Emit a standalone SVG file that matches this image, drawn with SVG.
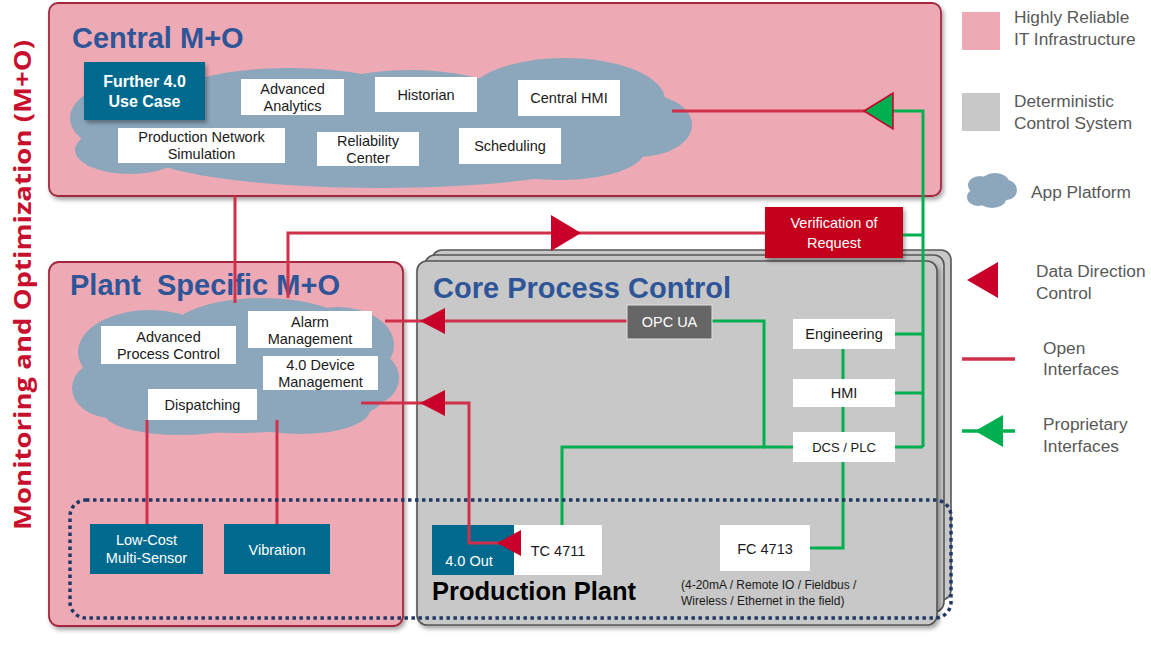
<svg xmlns="http://www.w3.org/2000/svg" width="1151" height="647" viewBox="0 0 1151 647">
<defs>
<filter id="sh" x="-10%" y="-10%" width="130%" height="140%"><feDropShadow dx="2" dy="3" stdDeviation="2" flood-color="#000" flood-opacity="0.35"/></filter>
<style>
.pinkbox{fill:#edaab5;stroke:#a3283e;stroke-width:1.8}
.graybox{fill:#c8c8c8;stroke:#555;stroke-width:1.6}
.cloud{fill:#8ca6bc}
.wbox{fill:#fff}
.tbox{fill:#006a8e}
.txt{font-family:"Liberation Sans",Arial,sans-serif;font-size:14.5px;fill:#1a1a1a;text-anchor:middle}
.wtxt{font-family:"Liberation Sans",Arial,sans-serif;font-size:14.5px;fill:#fff;text-anchor:middle}
.title{font-family:"Liberation Sans",Arial,sans-serif;font-size:29px;font-weight:bold;fill:#2e5597;white-space:pre}
.leg{font-family:"Liberation Sans",Arial,sans-serif;font-size:17.3px;fill:#595959}
.red{fill:none;stroke:#d0304a;stroke-width:3}
.green{fill:none;stroke:#00b050;stroke-width:3}
.tri{fill:#c8002a}
</style>
</defs>

<text transform="translate(31,285) rotate(-90)" text-anchor="middle" textLength="490" lengthAdjust="spacingAndGlyphs" style="font-family:'Open Sans','Liberation Sans',sans-serif;font-size:24px;font-weight:bold;fill:#c8102e">Monitoring and Optimization (M+O)</text>

<g id="central-mo">
<rect class="pinkbox" x="49" y="3" width="892" height="193" rx="9" filter="url(#sh)"/>
<text class="title" x="72" y="48">Central M+O</text>
<g id="central-cloud" class="cloud">
<ellipse cx="150" cy="118" rx="80" ry="40"/>
<ellipse cx="130" cy="150" rx="55" ry="24"/>
<ellipse cx="290" cy="112" rx="140" ry="44"/>
<ellipse cx="410" cy="108" rx="110" ry="38"/>
<ellipse cx="565" cy="100" rx="100" ry="42"/>
<ellipse cx="638" cy="125" rx="54" ry="32"/>
<ellipse cx="380" cy="150" rx="240" ry="38"/>
<ellipse cx="560" cy="150" rx="85" ry="30"/>
</g>
</g>

<g id="further-use-case"><rect class="tbox" x="84" y="62" width="121" height="58" filter="url(#sh)"/><text class="wtxt" x="144.5" y="87" style="font-weight:bold;font-size:16px">Further 4.0</text><text class="wtxt" x="144.5" y="107" style="font-weight:bold;font-size:16px">Use Case</text></g>
<g id="advanced-analytics"><rect class="wbox" x="241" y="79" width="103" height="36"/><text class="txt" x="292.5" y="94">Advanced</text><text class="txt" x="292.5" y="111">Analytics</text></g>
<g id="historian"><rect class="wbox" x="375" y="77" width="102" height="35"/><text class="txt" x="426" y="100">Historian</text></g>
<g id="central-hmi"><rect class="wbox" x="518" y="80" width="102" height="36"/><text class="txt" x="569" y="103">Central HMI</text></g>
<g id="prod-net-sim"><rect class="wbox" x="118" y="128" width="167" height="35"/><text class="txt" x="201.5" y="142">Production Network</text><text class="txt" x="201.5" y="159">Simulation</text></g>
<g id="reliability-center"><rect class="wbox" x="317" y="132" width="102" height="34"/><text class="txt" x="368" y="146">Reliability</text><text class="txt" x="368" y="163">Center</text></g>
<g id="scheduling"><rect class="wbox" x="459" y="128" width="102" height="36"/><text class="txt" x="510" y="151">Scheduling</text></g>

<g id="plant-mo">
<rect class="pinkbox" x="49" y="262" width="354" height="364" rx="10" filter="url(#sh)"/>
<text class="title" x="70" y="295" xml:space="preserve">Plant  Specific M+O</text>
<g id="plant-cloud" class="cloud">
<ellipse cx="150" cy="352" rx="72" ry="42"/>
<ellipse cx="262" cy="332" rx="92" ry="34"/>
<ellipse cx="338" cy="345" rx="56" ry="38"/>
<ellipse cx="372" cy="378" rx="27" ry="26"/>
<ellipse cx="112" cy="388" rx="40" ry="30"/>
<ellipse cx="235" cy="395" rx="150" ry="38"/>
<ellipse cx="180" cy="414" rx="75" ry="21"/>
<ellipse cx="300" cy="410" rx="70" ry="24"/>
</g>
</g>

<g id="core-process-control">
<rect class="graybox" x="432" y="250" width="519" height="350" rx="10"/>
<rect class="graybox" x="425" y="255" width="519" height="357" rx="10"/>
<rect class="graybox" x="417" y="261" width="520" height="364" rx="10" filter="url(#sh)"/>
<text class="title" x="433" y="298">Core Process Control</text>
</g>

<g id="advanced-process-control"><rect class="wbox" x="101" y="326" width="135" height="38"/><text class="txt" x="168.5" y="342">Advanced</text><text class="txt" x="168.5" y="359">Process Control</text></g>
<g id="alarm-management"><rect class="wbox" x="248" y="311" width="124" height="37"/><text class="txt" x="310" y="327">Alarm</text><text class="txt" x="310" y="344">Management</text></g>
<g id="device-management"><rect class="wbox" x="263" y="356" width="115" height="34"/><text class="txt" x="320.5" y="370">4.0 Device</text><text class="txt" x="320.5" y="387">Management</text></g>
<g id="dispatching"><rect class="wbox" x="148" y="389" width="109" height="31"/><text class="txt" x="202.5" y="410">Dispatching</text></g>

<g id="verification"><rect x="765" y="207" width="138" height="51" fill="#c4001f" filter="url(#sh)"/><text class="wtxt" x="834" y="228">Verification of</text><text class="wtxt" x="834" y="248">Request</text></g>

<g id="out40"><rect class="tbox" x="432" y="525" width="82" height="50"/><text class="wtxt" x="469" y="566">4.0 Out</text></g>

<g id="connectors">
<path class="red" d="M672 111H866"/>
<path class="red" d="M765 233H288V298"/>
<path class="red" d="M235 196V303"/>
<path class="red" d="M627 321H385"/>
<path class="red" d="M361 403H469V543H500"/>
<path class="red" d="M147 420V524"/>
<path class="red" d="M277 420V524"/>
<path class="green" d="M893 111H923V447"/>
<path class="green" d="M903 235H923"/>
<path class="green" d="M895 334H923"/>
<path class="green" d="M895 393H923"/>
<path class="green" d="M895 447H923"/>
<path class="green" d="M712 321H764V447H793"/>
<path class="green" d="M764 447H562V527"/>
<path class="green" d="M843 349V379M843 407V432M843 462V548H810"/>
<polygon points="864,111 893,93 893,129" fill="#00b050" stroke="#c8002a" stroke-width="1.5"/>
<polygon class="tri" points="581,233 551,215 551,251"/>
<polygon class="tri" points="420,321 445,308 445,334"/>
<polygon class="tri" points="420,403 445,390 445,416"/>
</g>

<g id="opc-ua"><rect x="627" y="305" width="85" height="34" fill="#666" stroke="#e0e0e0" stroke-width="1"/><text class="wtxt" x="669.5" y="327">OPC UA</text></g>
<g id="engineering"><rect class="wbox" x="793" y="319" width="102" height="30"/><text class="txt" x="844" y="339">Engineering</text></g>
<g id="hmi"><rect class="wbox" x="793" y="379" width="102" height="28"/><text class="txt" x="844" y="398">HMI</text></g>
<g id="dcs-plc"><rect class="wbox" x="793" y="432" width="102" height="30"/><text class="txt" x="844" y="452" style="font-size:13px">DCS / PLC</text></g>

<g id="production-plant">
<rect x="70" y="500" width="881" height="118" rx="16" fill="none" stroke="#1f3864" stroke-width="3.5" stroke-dasharray="3.5 3.5"/>
<text x="432" y="600" style="font-family:'Liberation Sans',Arial,sans-serif;font-size:25.5px;font-weight:bold;fill:#000">Production Plant</text>
<text x="681" y="589" style="font-family:'Liberation Sans',Arial,sans-serif;font-size:12px;fill:#1a1a1a">(4-20mA / Remote IO / Fieldbus /</text>
<text x="681" y="605" style="font-family:'Liberation Sans',Arial,sans-serif;font-size:12px;fill:#1a1a1a">Wireless / Ethernet in the field)</text>
</g>

<g id="low-cost-sensor"><rect class="tbox" x="90" y="524" width="113" height="50"/><text class="wtxt" x="146.5" y="545">Low-Cost</text><text class="wtxt" x="146.5" y="563">Multi-Sensor</text></g>
<g id="vibration"><rect class="tbox" x="224" y="524" width="106" height="50"/><text class="wtxt" x="277" y="555">Vibration</text></g>
<g id="tc4711"><rect class="wbox" x="514" y="525" width="88" height="50"/><text class="txt" x="558" y="556">TC 4711</text></g>
<g id="fc4713"><rect class="wbox" x="720" y="525" width="90" height="46"/><text class="txt" x="765" y="554">FC 4713</text></g>
<polygon class="tri" points="497,543 521,530 521,556"/>

<g id="legend">
<rect x="962" y="12" width="38" height="38" fill="#edaab5"/>
<text class="leg" x="1014" y="23">Highly Reliable</text>
<text class="leg" x="1014" y="45">IT Infrastructure</text>
<rect x="962" y="93" width="38" height="38" fill="#c8c8c8"/>
<text class="leg" x="1014" y="107">Deterministic</text>
<text class="leg" x="1014" y="129">Control System</text>
<g class="cloud">
<ellipse cx="980" cy="185" rx="12" ry="9"/>
<ellipse cx="995" cy="182" rx="14" ry="9"/>
<ellipse cx="1007" cy="190" rx="10" ry="10"/>
<ellipse cx="978" cy="197" rx="11" ry="9"/>
<ellipse cx="992" cy="199" rx="14" ry="9"/>
<ellipse cx="990" cy="191" rx="20" ry="10"/>
</g>
<text class="leg" x="1031" y="198">App Platform</text>
<polygon class="tri" points="967,280 998,262 998,298"/>
<text class="leg" x="1036" y="277">Data Direction</text>
<text class="leg" x="1036" y="299">Control</text>
<path d="M962 359H1015" stroke="#d0304a" stroke-width="3.5"/>
<text class="leg" x="1043" y="354">Open</text>
<text class="leg" x="1043" y="375">Interfaces</text>
<path d="M962 431H1015" stroke="#00b050" stroke-width="3.5"/>
<polygon points="975,431 1003,415 1003,447" fill="#00b050"/>
<text class="leg" x="1043" y="430">Proprietary</text>
<text class="leg" x="1043" y="452">Interfaces</text>
</g>
</svg>
